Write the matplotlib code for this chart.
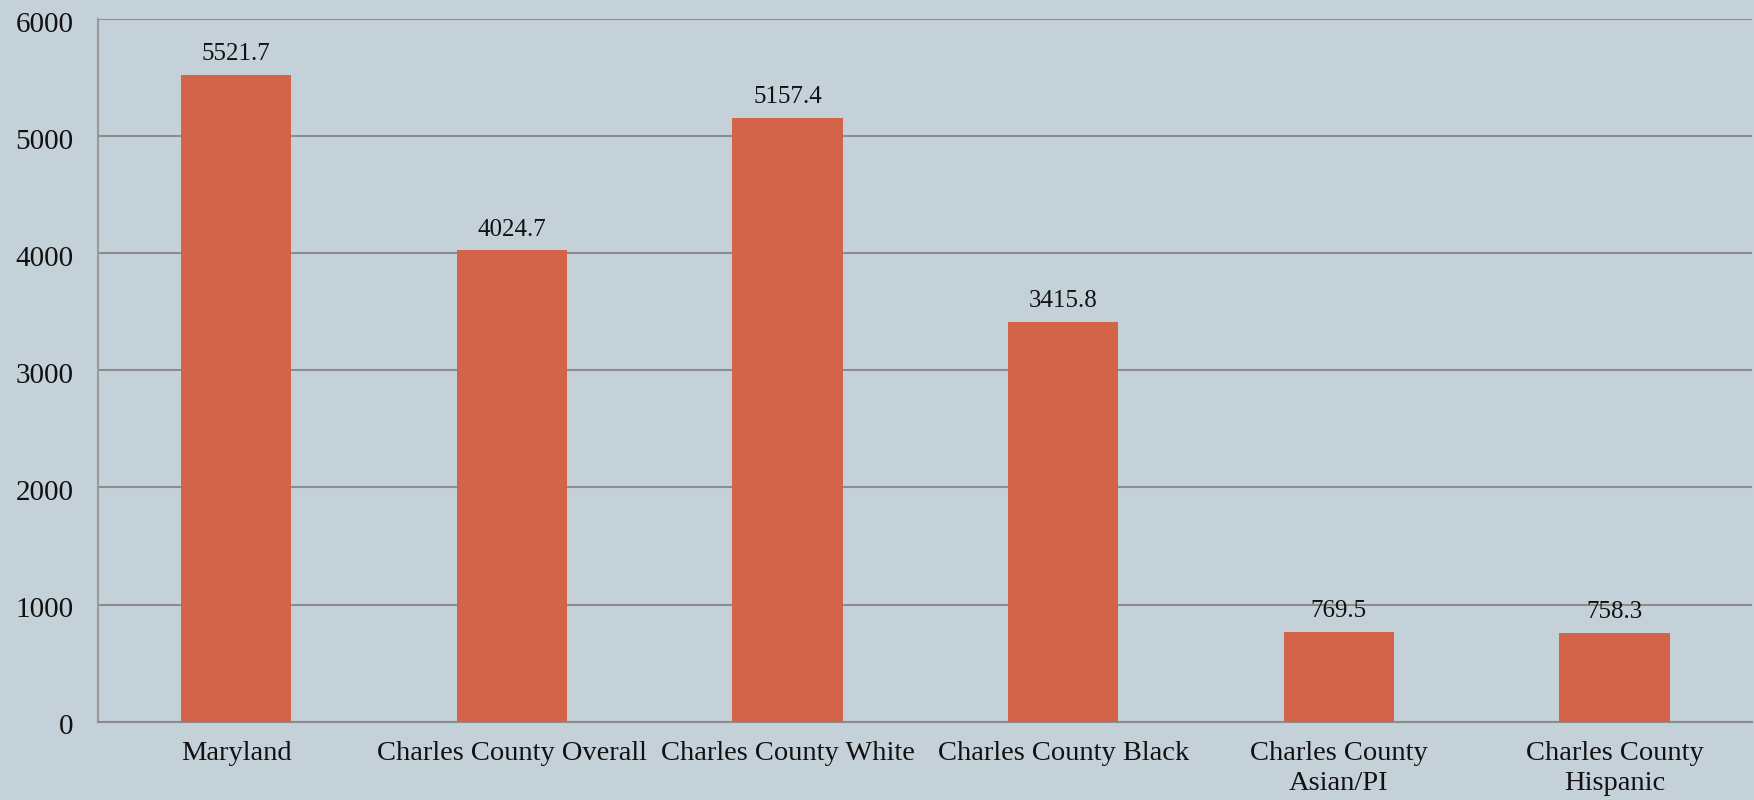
import matplotlib
matplotlib.use("Agg")
import matplotlib.pyplot as plt
from matplotlib.transforms import ScaledTranslation

categories = ["Maryland", "Charles County Overall", "Charles County White",
              "Charles County Black", "Charles County\nAsian/PI", "Charles County\nHispanic"]
values = [5521.7, 4024.7, 5157.4, 3415.8, 769.5, 758.3]
yticks = [0, 1000, 2000, 3000, 4000, 5000, 6000]

bg = "#C5D1D8"
bar_color = "#D2644A"
grid_color = "#8A8C8D"

plt.rcParams['font.family'] = ['Liberation Serif', 'DejaVu Serif']

fig = plt.figure(figsize=(17.54, 8.0), dpi=100, facecolor=bg)
ax = fig.add_axes([0.0561, 0.098, 0.9429, 0.878])
ax.set_facecolor(bg)

x = list(range(len(categories)))
bars = ax.bar(x, values, width=0.4, color=bar_color, zorder=3)

for xi, v in zip(x, values):
    ax.annotate(f"{v}", (xi, v), xytext=(0, 7), textcoords="offset points",
                ha="center", va="bottom", fontsize=18, color="#111111", zorder=4)

ax.set_xlim(-0.5, len(categories) - 0.5)
ax.set_ylim(0, 6000)
ax.set_yticks(yticks)
ax.set_yticklabels([str(t) for t in yticks], fontsize=21, color="#111111")
ax.set_xticks(x)
ax.set_xticklabels(categories, fontsize=20.5, color="#111111", linespacing=1.25)
ax.tick_params(axis='y', length=0, pad=18)
ax.tick_params(axis='x', length=0, pad=14)
offset = ScaledTranslation(0, -4 / 72, fig.dpi_scale_trans)
for lbl in ax.get_yticklabels():
    lbl.set_va("center")
    lbl.set_transform(lbl.get_transform() + offset)

ax.yaxis.grid(True, color=grid_color, linewidth=1.5, zorder=1)
ax.set_axisbelow(True)
for s in ["top", "right"]:
    ax.spines[s].set_visible(False)
ax.spines["left"].set_color("#999999")
ax.spines["left"].set_linewidth(1.5)
ax.spines["bottom"].set_color(grid_color)
ax.spines["bottom"].set_linewidth(1.5)

fig.savefig("out.png", dpi=100, facecolor=bg)
